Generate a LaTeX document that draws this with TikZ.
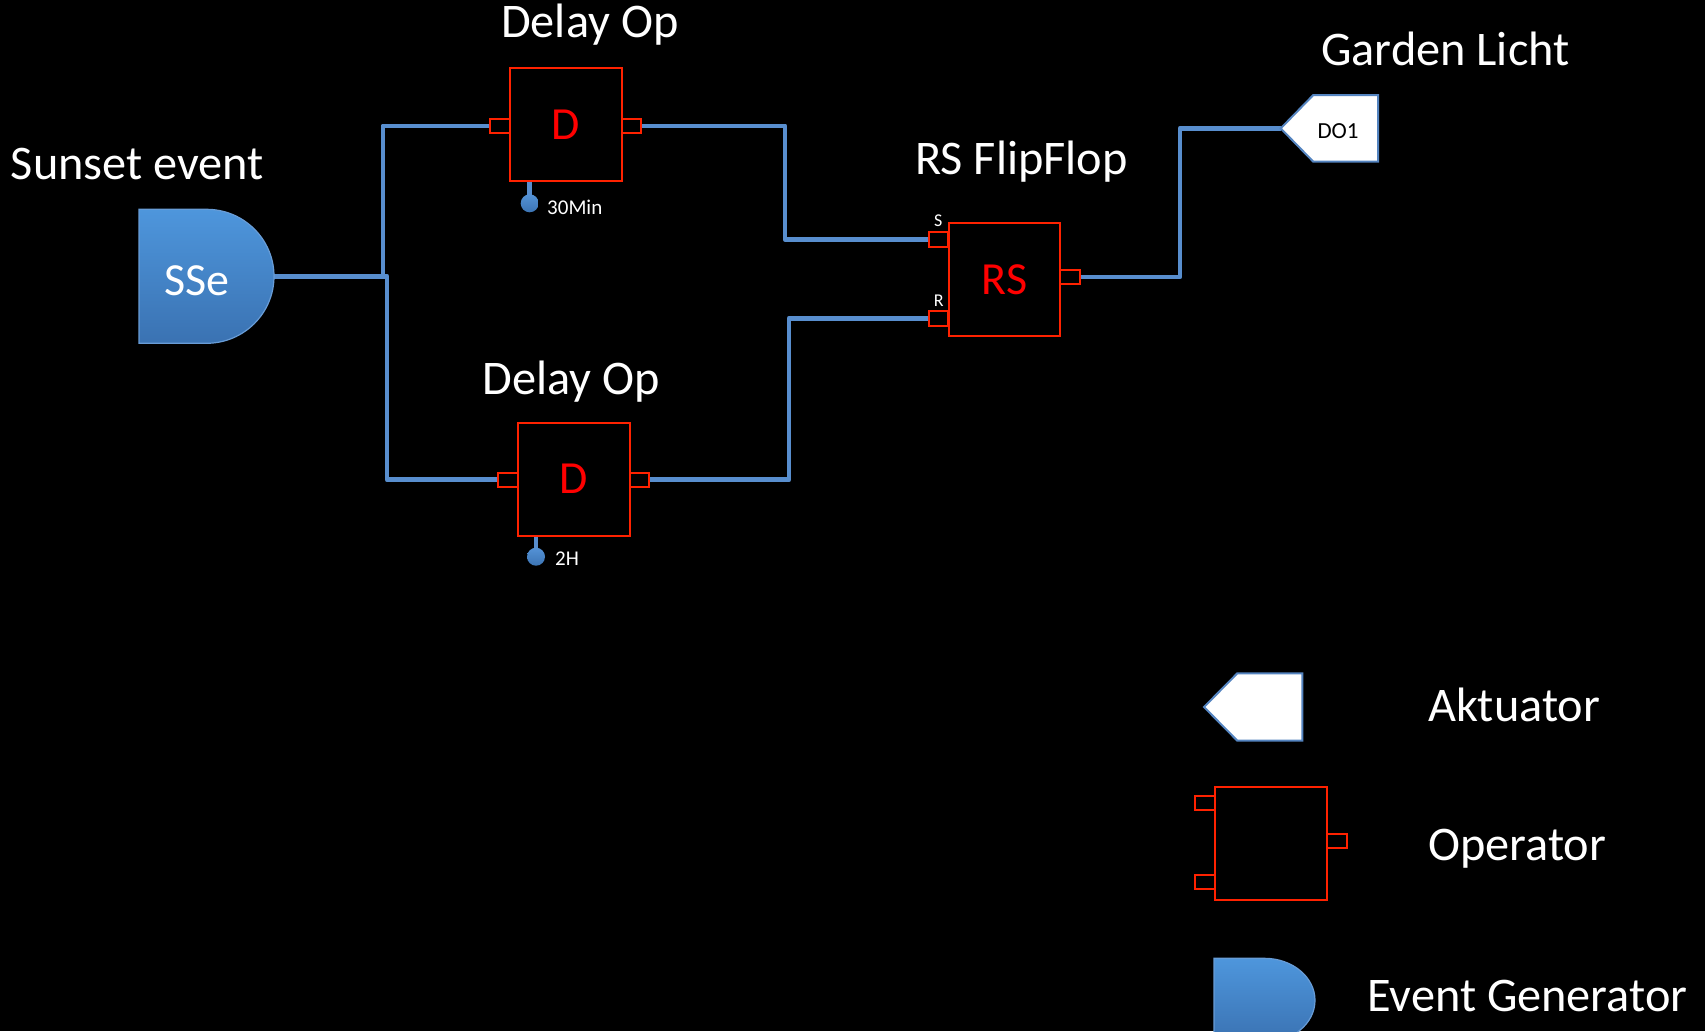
\documentclass[tikz,border=0pt]{standalone}
\usepackage{fontspec}
\setmainfont{Carlito}
\usetikzlibrary{calc,backgrounds}

\definecolor{wireblue}{RGB}{88,142,206}
\definecolor{opred}{RGB}{255,34,0}
\definecolor{genTop}{RGB}{78,150,220}
\definecolor{genBot}{RGB}{58,114,178}
\definecolor{genEdge}{RGB}{104,156,214}
\definecolor{actEdge}{RGB}{84,132,192}
\definecolor{dotTop}{RGB}{84,146,214}
\definecolor{dotBot}{RGB}{60,116,180}

\tikzset{
  wire/.style={draw=wireblue, line width=4.8pt, line join=round},
  opbox/.style={draw=opred, line width=2pt, minimum width=112pt, minimum height=113pt,
    inner sep=0pt, outer sep=0pt, text=red, font=\fontsize{46}{55}\selectfont},
  port/.style={draw=opred, line width=2pt, minimum width=19.5pt, minimum height=14.5pt,
    inner sep=0pt, outer sep=0pt},
  frame/.style={inner sep=0pt, outer sep=0pt, draw=none},
  generator/.style={top color=genTop, bottom color=genBot, draw=genEdge, line width=1.2pt},
  actuator/.style={fill=white, draw=actEdge, line width=2pt, line join=miter},
  paramdot/.style={circle, top color=dotTop, bottom color=dotBot, draw=none,
    minimum size=18pt, inner sep=0pt},
  title/.style={text=white, font=\fontsize{48.3}{58}\selectfont, anchor=base west, inner sep=0pt},
  param/.style={text=white, font=\fontsize{21}{25}\selectfont, anchor=base west, inner sep=0pt},
  pinname/.style={text=white, font=\fontsize{18}{22}\selectfont, anchor=base, inner sep=0pt},
  genlabel/.style={text=white, font=\fontsize{46}{55}\selectfont, anchor=base, inner sep=0pt},
  actlabel/.style={text=black, font=\fontsize{23}{28}\selectfont, anchor=base west, inner sep=0pt}
}

\begin{document}
\begin{tikzpicture}[x=1pt, y=-1pt]
\begin{pgfonlayer}{background}
  \path[use as bounding box, fill=black] (0,0) rectangle (1705,1031);
\end{pgfonlayer}
\clip (0,0) rectangle (1705,1031);

% ---------- event generator: sunset ----------
\node[frame, minimum width=135pt, minimum height=134pt] (sse) at (206.5,276.3) {};
\shade[generator] (sse.north west) -- (sse.north)
  arc[start angle=-90, end angle=90, x radius=67.5, y radius=67] -- (sse.south west) -- cycle;
\node[genlabel] (sselbl) at (196.7,295.7) {SSe};

% ---------- delay operators ----------
\node[opbox] (d1) at (565.7,124.7) {D};
\node[port] (d1in) at (499.9,125.9) {};
\node[port] (d1out) at (631.4,125.9) {};
\node[paramdot] (d1dot) at (529.7,203.3) {};

\node[opbox] (d2) at (573.7,479) {D};
\node[port] (d2in) at (507.8,479.8) {};
\node[port] (d2out) at (639.5,479.8) {};
\node[paramdot] (d2dot) at (536,556.7) {};

% ---------- RS flip-flop ----------
\node[opbox, minimum width=111.6pt] (rs) at (1004.5,279.7) {RS};
\node[port] (rsS) at (938.7,239.3) {};
\node[port] (rsR) at (938.7,318.3) {};
\node[port] (rsout) at (1070.2,277) {};
\node[pinname] (lblS) at (938.3,226) {S};
\node[pinname] (lblR) at (938.7,306) {R};

% ---------- actuator ----------
\node[frame, minimum width=97.3pt, minimum height=66.7pt] (do1) at (1329.35,128.35) {};
\draw[actuator] (do1.west) -- ($(do1.north west)+(32.6,0)$) -- (do1.north east)
  -- (do1.south east) -- ($(do1.south west)+(32.6,0)$) -- cycle;
\node[actlabel] (do1lbl) at (1317.3,138.3) {DO1};

% ---------- wiring ----------
\coordinate (j1) at (383,276.3);
\coordinate (j2) at (387,276.3);
\coordinate (b1) at (785,239.3);
\coordinate (b2) at (789,318.3);
\coordinate (b3) at (1180,128.35);
\begin{pgfonlayer}{background}
  \draw[wire] (sse.east) -- (j2) |- (d2in.west);
  \draw[wire] (j1) |- (d1in.west);
  \draw[wire] (d1out.east) -| (b1) -- (rsS.west);
  \draw[wire] (d2out.east) -| (b2) -- (rsR.west);
  \draw[wire] (rsout.east) -| (b3) -- (do1.west);
  \draw[wire] (d1dot |- d1.south) -- (d1dot.center);
  \draw[wire] (d2dot |- d2.south) -- (d2dot.center);
\end{pgfonlayer}

% ---------- parameters ----------
\node[param] (p30) at (547,214) {30Min};
\node[param] (p2h) at (555,565.7) {2H};

% ---------- titles ----------
\node[title] (tDelay1) at (501,37.7) {Delay Op};
\node[title] (tSunset) at (10.7,179) {Sunset event};
\node[title] (tGarden) at (1321,65) {Garden Licht};
\node[title] (tRS) at (915,174) {RS FlipFlop};
\node[title] (tDelay2) at (482.5,394.4) {Delay Op};

% ---------- legend ----------
\node[frame, minimum width=98.3pt, minimum height=67.4pt] (legAct) at (1253.15,707) {};
\draw[actuator] (legAct.west) -- ($(legAct.north west)+(33.3,0)$) -- (legAct.north east)
  -- (legAct.south east) -- ($(legAct.south west)+(33.3,0)$) -- cycle;
\node[title] (tAkt) at (1428,721.8) {Aktuator};

\node[opbox] (legOp) at (1271,843.3) {};
\node[port] (legIn1) at (1205.2,803.2) {};
\node[port] (legIn2) at (1205.2,882.2) {};
\node[port] (legOut) at (1336.8,840.9) {};
\node[title] (tOp) at (1428,860) {Operator};

\node[frame, minimum width=101pt, minimum height=84pt] (legGen) at (1264.5,1000.3) {};
\shade[generator] (legGen.north west) -- (legGen.north)
  arc[start angle=-90, end angle=90, x radius=50.5, y radius=42] -- (legGen.south west) -- cycle;
\node[title] (tGen) at (1367,1011) {Event Generator};
\end{tikzpicture}
\end{document}
